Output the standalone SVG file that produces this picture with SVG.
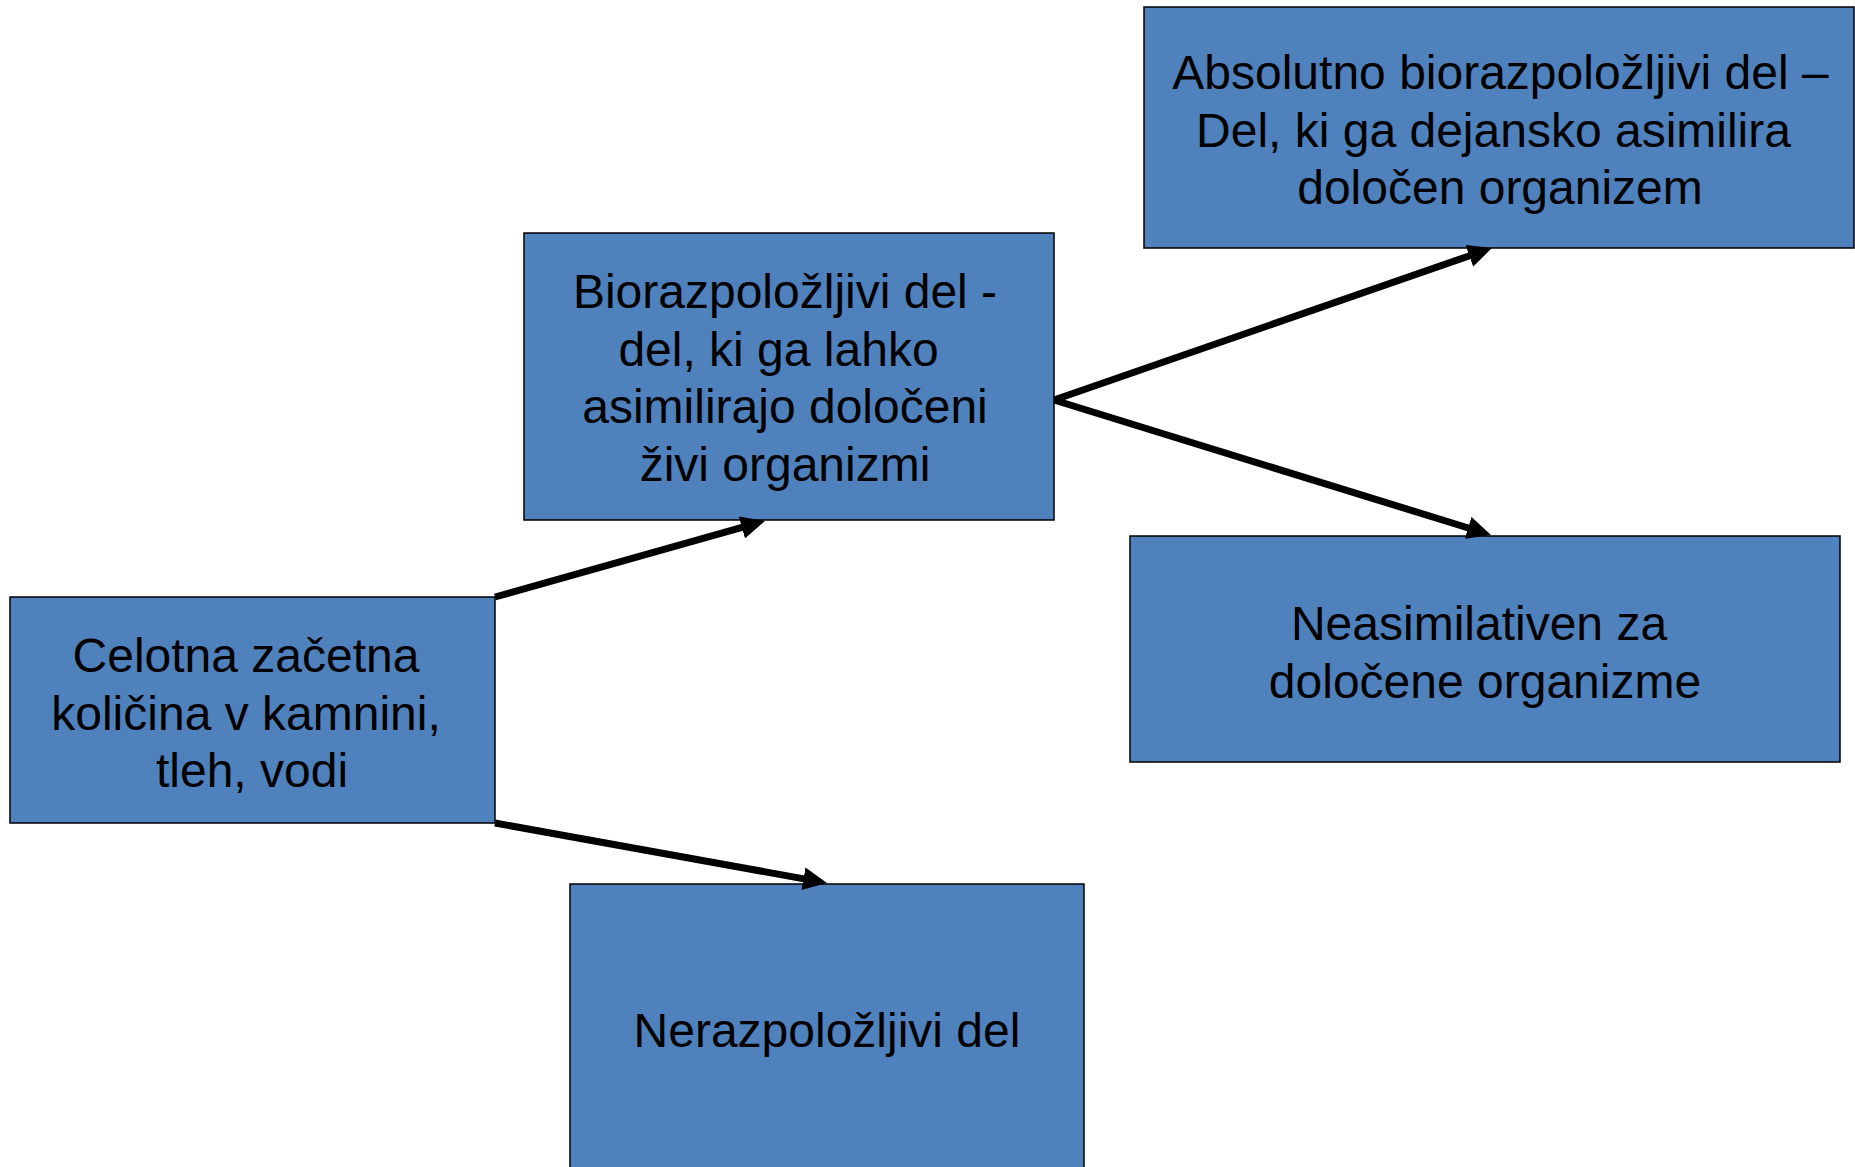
<svg xmlns="http://www.w3.org/2000/svg" width="1855" height="1167" viewBox="0 0 1855 1167">
<style>
.box{fill:#4F81BD;stroke:#000;stroke-width:1.5}
.t{font-family:"Liberation Sans",Arial,sans-serif;font-size:48px;fill:#000;text-anchor:middle}
.c{stroke:#000;stroke-width:7;fill:none;marker-end:url(#ah)}
</style>
<defs>
<marker id="ah" markerUnits="userSpaceOnUse" markerWidth="24" markerHeight="23" refX="2" refY="11.5" orient="auto">
<path d="M0,0 L24,11.5 L0,23 z" fill="#000"/>
</marker>
</defs>
<rect width="1855" height="1167" fill="#fff"/>
<g id="n-celotna">
<rect class="box" x="10" y="597" width="485" height="226"/>
<text class="t" x="246" y="672">Celotna začetna</text>
<text class="t" x="246" y="730">količina v kamnini,</text>
<text class="t" x="252" y="787">tleh, vodi</text>
</g>
<g id="n-bio">
<rect class="box" x="524" y="233" width="530" height="287"/>
<text class="t" x="785" y="308">Biorazpoložljivi del -</text>
<text class="t" x="778.5" y="366">del, ki ga lahko</text>
<text class="t" x="785" y="423">asimilirajo določeni</text>
<text class="t" x="785" y="481">živi organizmi</text>
</g>
<g id="n-abs">
<rect class="box" x="1144" y="7" width="710" height="241"/>
<text class="t" x="1500.5" y="89">Absolutno biorazpoložljivi del –</text>
<text class="t" x="1493.5" y="147">Del, ki ga dejansko asimilira</text>
<text class="t" x="1500" y="204">določen organizem</text>
</g>
<g id="n-neasim">
<rect class="box" x="1130" y="536" width="710" height="226"/>
<text class="t" x="1479" y="640">Neasimilativen za</text>
<text class="t" x="1485" y="698">določene organizme</text>
</g>
<g id="n-nerazp">
<rect class="box" x="570" y="884" width="514" height="300"/>
<text class="t" x="827" y="1047">Nerazpoložljivi del</text>
</g>
<g id="connectors">
<line class="c" x1="495" y1="597" x2="743.8" y2="526.9"/>
<line class="c" x1="495" y1="823" x2="805.4" y2="879.1"/>
<line class="c" x1="1054" y1="400" x2="1471.2" y2="255.2"/>
<line class="c" x1="1054" y1="400" x2="1470" y2="528.5"/>
</g>
</svg>
